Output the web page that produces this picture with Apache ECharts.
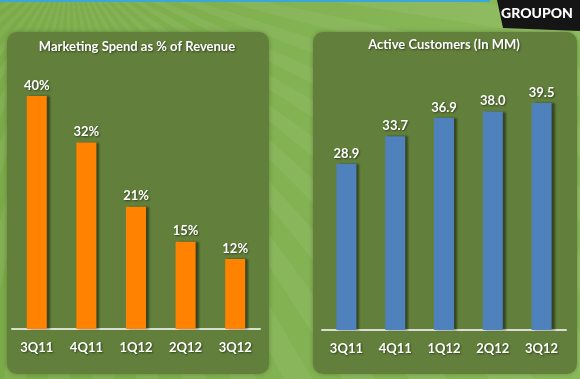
<!DOCTYPE html>
<html><head><meta charset="utf-8">
<script src="https://cdn.jsdelivr.net/npm/echarts@6/dist/echarts.min.js"></script>
<style>html,body{margin:0;padding:0;background:#80b04f;}#c{width:580px;height:379px;}</style>
</head><body><div id="c"></div>
<script>
var categories = ['3Q11','4Q11','1Q12','2Q12','3Q12'];
var marketingSpend = [40, 32, 21, 15, 12];
var activeCustomers = ['28.9','33.7','36.9','38.0','39.5'];
var title1 = 'Marketing Spend as % of Revenue';
var title2 = 'Active Customers (In MM)';

var chart = echarts.init(document.getElementById('c'), null, {renderer:'canvas'});
var FONT = 'Lato';

// sunburst rays decoration
var rays = [];
var ox = 70, oy = -40, R = 900, n = 60;
for (var i = 0; i < n; i++) {
  if (i % 2) continue;
  var a0 = Math.PI * i / n, a1 = Math.PI * (i + 1) / n;
  rays.push({type:'polygon', silent:true, z:-10,
    shape:{points:[[ox,oy],[ox+R*Math.cos(a0),oy+R*Math.sin(a0)],[ox+R*Math.cos(a1),oy+R*Math.sin(a1)]]},
    style:{fill:'rgba(255,255,255,0.06)'}});
}
var tshadow = {textShadowColor:'rgba(0,0,0,0.5)', textShadowBlur:2, textShadowOffsetX:1, textShadowOffsetY:1};

var labelStyle = Object.assign({show:true, position:'top', distance:4, color:'#ffffff', fontFamily:FONT,
  fontWeight:'bold', fontSize:13}, tshadow);
var axisLabel = Object.assign({color:'#ffffff', fontFamily:FONT, fontWeight:'bold', fontSize:13, margin:12}, tshadow);

chart.setOption({
  backgroundColor: {type:'linear', x:0, y:0, x2:1, y2:0, colorStops:[{offset:0,color:'#7aab48'},{offset:1,color:'#8ab95a'}]},
  animation:false,
  graphic: rays.concat([
    {type:'rect', silent:true, z:-9, shape:{x:0,y:0,width:490,height:2}, style:{fill:'#3aa8d8'}},
    {type:'rect', silent:true, z:-5, shape:{x:7,y:32,width:262,height:342,r:10}, style:{fill:'#62803b', shadowColor:'rgba(0,0,0,0.25)', shadowBlur:4}},
    {type:'rect', silent:true, z:-5, shape:{x:313,y:32,width:264,height:342,r:10}, style:{fill:'#62803b', shadowColor:'rgba(0,0,0,0.25)', shadowBlur:4}},
    {type:'polygon', silent:true, z:10, shape:{points:[[497,0],[580,0],[580,31],[503,28]]}, style:{fill:'#151515'}},
    {type:'text', silent:true, z:11, x:537, y:13, style:{text:'GROUPON', fill:'#ffffff', font:'900 14px Lato', textAlign:'center', textVerticalAlign:'middle'}},
    {type:'text', silent:true, z:11, x:137, y:47, style:Object.assign({text:title1, fill:'#ffffff', font:'bold 13px Lato', textAlign:'center', textVerticalAlign:'middle'}, tshadow)},
    {type:'text', silent:true, z:11, x:444, y:45, style:Object.assign({text:title2, fill:'#ffffff', font:'bold 13px Lato', textAlign:'center', textVerticalAlign:'middle'}, tshadow)}
  ]),
  grid:[
    {left:12, right:320, top:96, bottom:50},
    {left:322, right:14, top:100, bottom:49}
  ],
  xAxis:[
    {type:'category', gridIndex:0, data:categories, axisTick:{show:false},
     axisLine:{lineStyle:{color:'#d9ddd2', width:2}}, axisLabel:axisLabel},
    {type:'category', gridIndex:1, data:categories, axisTick:{show:false},
     axisLine:{lineStyle:{color:'#d9ddd2', width:2}}, axisLabel:axisLabel}
  ],
  yAxis:[
    {type:'value', gridIndex:0, min:0, max:40, show:false},
    {type:'value', gridIndex:1, min:0, max:40, show:false}
  ],
  series:[
    {type:'bar', xAxisIndex:0, yAxisIndex:0, data:marketingSpend, barWidth:20,
     itemStyle:{color:'#ff8200', shadowColor:'rgba(0,0,0,0.45)', shadowOffsetX:3, shadowBlur:2},
     label:Object.assign({}, labelStyle, {formatter:'{c}%'})},
    {type:'bar', xAxisIndex:1, yAxisIndex:1, data:activeCustomers.map(Number), barWidth:20,
     itemStyle:{color:'#4f81bd', shadowColor:'rgba(0,0,0,0.45)', shadowOffsetX:3, shadowBlur:2},
     label:Object.assign({}, labelStyle, {formatter:function(p){return activeCustomers[p.dataIndex];}})}
  ]
});
</script></body></html>
